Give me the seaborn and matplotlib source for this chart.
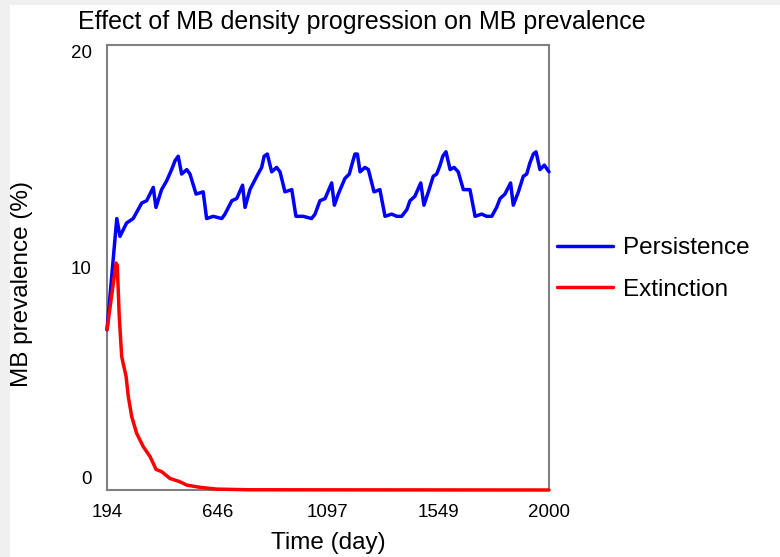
import matplotlib
matplotlib.use("Agg")
import matplotlib.pyplot as plt
import matplotlib.transforms as mtransforms
import numpy as np
import pandas as pd
import seaborn as sns

# values
pers_day = [194, 234, 247, 274, 301, 336, 356, 383, 394, 417, 438, 458, 472, 485, 499,
            520, 533, 558, 587, 601, 628, 663, 676, 704, 724, 748, 758, 778, 806, 826,
            836, 849, 867, 887, 901, 921, 949, 966, 996, 1030, 1044, 1064, 1085, 1112, 1123,
            1139, 1166, 1184, 1194, 1207, 1217, 1228, 1248, 1262, 1285, 1309, 1330, 1357, 1378, 1398,
            1419, 1432, 1452, 1476, 1489, 1507, 1527, 1541, 1555, 1566, 1579, 1596, 1612, 1629, 1650,
            1677, 1698, 1725, 1745, 1766, 1786, 1800, 1820, 1843, 1854, 1875, 1895, 1909, 1922, 1936,
            1947, 1963, 1981, 2000]
pers_val = [7.2, 12.2, 11.4, 12.0, 12.2, 12.9, 13.0, 13.6, 12.7, 13.5, 13.9, 14.4, 14.8, 15.0, 14.2,
            14.4, 14.2, 13.3, 13.4, 12.2, 12.3, 12.2, 12.4, 13.0, 13.1, 13.7, 12.7, 13.5, 14.1, 14.5,
            15.0, 15.1, 14.3, 14.5, 14.3, 13.4, 13.5, 12.3, 12.3, 12.2, 12.4, 13.0, 13.1, 13.8, 12.8,
            13.3, 14.0, 14.2, 14.6, 15.1, 15.1, 14.3, 14.5, 14.4, 13.4, 13.5, 12.3, 12.4, 12.3, 12.3,
            12.6, 13.0, 13.2, 13.8, 12.8, 13.4, 14.1, 14.2, 14.6, 15.0, 15.2, 14.4, 14.5, 14.3, 13.5,
            13.5, 12.3, 12.4, 12.3, 12.3, 12.7, 13.1, 13.3, 13.8, 12.8, 13.4, 14.1, 14.2, 14.7, 15.1,
            15.2, 14.4, 14.6, 14.3]

ext_day = [194, 231, 236, 244, 254, 272, 281, 295, 315, 342, 370, 383, 394, 418, 451,
           492, 520, 574, 642, 778, 2000]
ext_val = [7.2, 10.2, 10.1, 7.8, 6.0, 5.1, 4.2, 3.3, 2.55, 1.95, 1.5, 1.2, 0.93, 0.82, 0.52,
           0.37, 0.22, 0.12, 0.04, 0.01, 0.0]

series = ["Persistence", "Extinction"]
colors = {"Persistence": "#0000ff", "Extinction": "#ff0000"}
x_ticks = [194, 646, 1097, 1549, 2000]
y_ticks = [0, 10, 20]

df = pd.concat([
    pd.DataFrame({"day": pers_day, "prev": pers_val, "scenario": "Persistence"}),
    pd.DataFrame({"day": ext_day, "prev": ext_val, "scenario": "Extinction"}),
], ignore_index=True)

sns.set_theme(style="white")
plt.rcParams["font.family"] = ["Liberation Sans", "DejaVu Sans"]
plt.rcParams["text.color"] = "black"

fig = plt.figure(figsize=(7.8, 5.57), dpi=100, facecolor="#f0f0f0")
# white panel, leaving the thin grey strip on the left and top
bg = plt.Rectangle((10 / 780, 0), 1, 552 / 557, transform=fig.transFigure,
                   facecolor="white", edgecolor="none", zorder=-10)
fig.patches.append(bg)

ax = fig.add_axes([107 / 780, 67 / 557, 442 / 780, 445 / 557])
ax.set_zorder(1)
sns.lineplot(data=df, x="day", y="prev", hue="scenario", hue_order=series,
             palette=colors, estimator=None, sort=False, linewidth=2.5, ax=ax, legend=True)
for ln in ax.lines:
    ln.set_clip_on(False)
    ln.set_zorder(5)

ax.set_xlim(194, 2000)
ax.set_ylim(0, 20)
ax.set_xticks(x_ticks)
ax.set_yticks(y_ticks)
ax.tick_params(axis="both", length=0, labelsize=13.5, colors="black")
ax.tick_params(axis="x", pad=10)
ax.tick_params(axis="y", pad=11)
for sp in ax.spines.values():
    sp.set_color("#808080")
    sp.set_linewidth(1.5)
ax.set_xlabel("")
ax.set_ylabel("")

# the reference pulls the end labels of the y axis inside the box
ylabels = ax.get_yticklabels()
ylabels[0].set_transform(ylabels[0].get_transform()
                         + mtransforms.ScaledTranslation(0, 0.12, fig.dpi_scale_trans))
ylabels[-1].set_transform(ylabels[-1].get_transform()
                          + mtransforms.ScaledTranslation(0, -0.07, fig.dpi_scale_trans))

leg = ax.legend(loc="center left", bbox_to_anchor=(557 / 780, 1 - 269 / 557),
                bbox_transform=fig.transFigure, frameon=False, fontsize=17.5,
                handlelength=2.3, handletextpad=0.4, labelspacing=0.8,
                borderpad=0, borderaxespad=0)
for h in leg.get_lines():
    h.set_linewidth(2.5)
for t in leg.get_texts():
    t.set_color("black")

fig.text(362 / 780, 1 - 22 / 557, "Effect of MB density progression on MB prevalence",
         ha="center", va="center", fontsize=18, color="black")
fig.text(328 / 780, 1 - 543 / 557, "Time (day)", ha="center", va="center",
         fontsize=17.5, color="black")
fig.text(22 / 780, 1 - 284 / 557, "MB prevalence (%)", ha="center", va="center",
         rotation=90, fontsize=17.5, color="black")

fig.savefig("out.png", dpi=100, facecolor=fig.get_facecolor())
